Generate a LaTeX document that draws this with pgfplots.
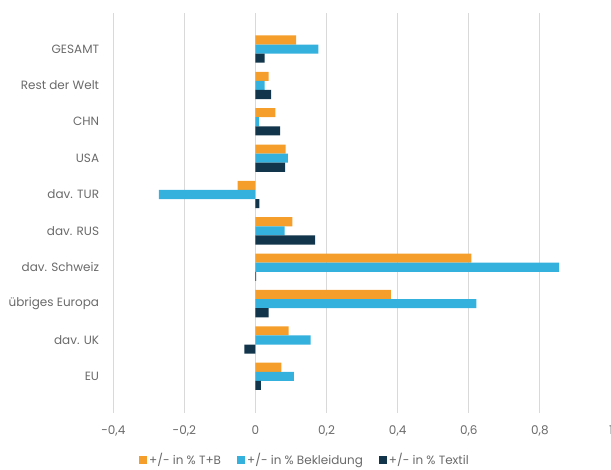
\documentclass[border=0pt]{standalone}
\usepackage{pgfplots}
\pgfplotsset{compat=1.18}
\usepackage{fontspec}
\setmainfont{Poppins}
\definecolor{cTB}{HTML}{F59E2B}
\definecolor{cBek}{HTML}{34B1DC}
\definecolor{cTex}{HTML}{12354B}
\definecolor{txt}{HTML}{6A6A6A}
\definecolor{grd}{HTML}{D9D9D9}
\begin{document}
\begin{tikzpicture}
\begin{axis}[
  at={(0,0)}, anchor=south west,
  scale only axis,
  width=497.7pt, height=400pt,
  xbar, bar width=9.1pt,
  xmin=-0.4, xmax=1.0,
  ymin=-1, ymax=10,
  xtick={-0.4,-0.2,0,0.2,0.4,0.6,0.8,1.0},
  ytick={0,...,9},
  yticklabels={EU, dav. UK, übriges Europa, dav. Schweiz, dav. RUS, dav. TUR, USA, CHN, Rest der Welt, GESAMT},
  xmajorgrids, grid style={grd, line width=0.9pt},
  axis line style={draw=none},
  major tick length=0pt,
  tick style={draw=none},
  /pgf/number format/assume math mode=true,
  /pgf/number format/use comma,
  /pgf/number format/fixed,
  /pgf/number format/precision=1,
  tick label style={font=\fontsize{12}{14}\selectfont, text=txt},
  yticklabel style={inner sep=0pt, anchor=east, xshift=-14pt},
  xticklabel style={inner sep=0pt, anchor=north, yshift=-13pt},
  legend style={draw=none, at={(25.7pt,-47.3pt)}, anchor=west,
    font=\fontsize{12}{14}\selectfont, text=txt, inner sep=0pt,
    /tikz/every even column/.append style={column sep=14pt}},
  legend columns=3,
  legend image code/.code={\fill[#1, draw=none] (0pt,-4pt) rectangle (8pt,4pt);},
  legend cell align=left,
]
% +/- in % T+B
\addplot[fill=cTB, draw=none, bar shift=9.1pt] coordinates {
  (0.073,0) (0.093,1) (0.381,2) (0.607,3) (0.104,4) (-0.050,5) (0.085,6) (0.056,7) (0.037,8) (0.114,9)};
% +/- in % Bekleidung
\addplot[fill=cBek, draw=none, bar shift=0pt] coordinates {
  (0.108,0) (0.155,1) (0.621,2) (0.854,3) (0.082,4) (-0.272,5) (0.091,6) (0.010,7) (0.026,8) (0.177,9)};
% +/- in % Textil
\addplot[fill=cTex, draw=none, bar shift=-9.1pt] coordinates {
  (0.015,0) (-0.031,1) (0.037,2) (0.002,3) (0.168,4) (0.011,5) (0.083,6) (0.069,7) (0.044,8) (0.026,9)};
\legend{+/- in \% T+B, +/- in \% Bekleidung, +/- in \% Textil}
\end{axis}
\pgfresetboundingbox
\path[use as bounding box] (-113.3pt,-56.3pt) rectangle (497.7pt,412.7pt);
\end{tikzpicture}
\end{document}
